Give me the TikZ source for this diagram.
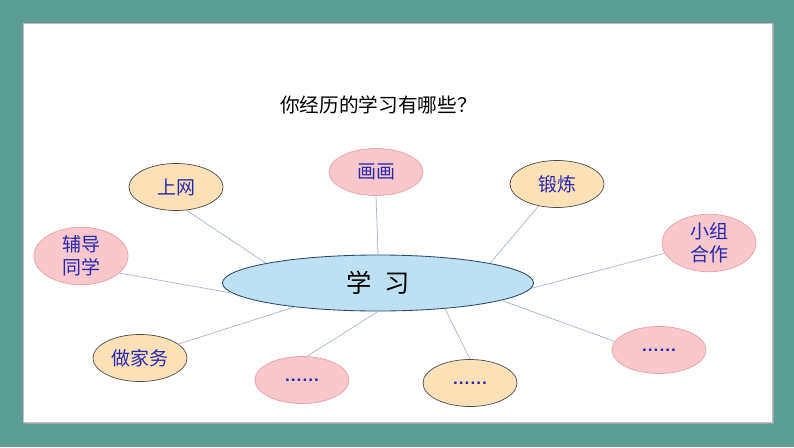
\documentclass[tikz,border=0pt]{standalone}
\usepackage{fontspec}
\usepackage{tikz}
\usepackage{xcolor}
\usetikzlibrary{positioning, shapes.geometric}
\newfontfamily\cjk{Noto Sans CJK SC}
\definecolor{xxteal}{RGB}{91, 158, 148}
\definecolor{xxpeach}{RGB}{252, 224, 184}
\definecolor{xxpink}{RGB}{248, 200, 204}
\definecolor{xxpinkline}{RGB}{230, 160, 170}
\definecolor{xxsky}{RGB}{189, 224, 242}
\definecolor{xxnavy}{RGB}{40, 70, 110}
\definecolor{xxink}{RGB}{40, 40, 175}
\definecolor{xxspoke}{RGB}{168, 184, 200}
\tikzset{
  leaf/.style={ellipse, inner sep=0pt, minimum width=2.35cm, minimum height=1.175cm,
    align=center, text=xxink, font=\cjk\fontsize{13.5}{16.5}\selectfont},
  peach/.style={leaf, fill=xxpeach, draw=black!70, line width=0.5pt},
  pinkish/.style={leaf, fill=xxpink, draw=xxpinkline, line width=0.5pt},
  spoke/.style={draw=xxspoke, line width=0.5pt}
}

\begin{document}
\begin{tikzpicture}[x=0.025cm, y=-0.025cm]
    % frame
    \fill[xxteal] (0,0) rectangle (794,447);
    \fill[black!35] (25,25) rectangle (774,424);
    \filldraw[fill=white, draw=black!25, line width=0.4pt] (23,23) rectangle (772,422);
    \useasboundingbox (0,0) rectangle (794,447);

    \node[font=\cjk\fontsize{14}{16}\selectfont] (title) at (378.5,105) {你经历的学习有哪些？};

    \node[ellipse, inner sep=0pt, minimum width=7.775cm, minimum height=1.4cm,
      fill=xxsky, draw=xxnavy, line width=0.6pt, font=\cjk\fontsize{18}{20}\selectfont] (hub) at (378,283)
      {学\hspace{0.3cm}习};

    \node[peach] (shangwang) at (176,187) {上网};
    \node[pinkish] (huahua) at (376,172) {画画};
    \node[peach] (duanlian) at (557,184) {锻炼};
    \node[pinkish] (fudao) at (81,256) {辅导\\同学};
    \node[pinkish] (xiaozu) at (709,243) {小组\\合作};
    \node[peach] (jiawu) at (140,358) {做家务};
    \node[pinkish] (etcleft) at (302,380) {\textbf{\textsf{......}}};
    \node[peach] (etcmid) at (470,383) {\textbf{\textsf{......}}};
    \node[pinkish] (etcright) at (659,350) {\textbf{\textsf{......}}};

    \draw[spoke] (shangwang.-66) -- (hub.170);
    \draw[spoke] (huahua.south) -- (hub.north);
    \draw[spoke] (duanlian.-130) -- (hub.10);
    \draw[spoke] (fudao.-24) -- (hub.184);
    \draw[spoke] (xiaozu.193) -- (hub.-2);
    \draw[spoke] (jiawu.20) -- (hub.-164);
    \draw[spoke] (etcleft.78) -- (hub.-90);
    \draw[spoke] (etcmid.north) -- (hub.-21);
    \draw[spoke] (etcright.169) -- (hub.-8);
  \end{tikzpicture}
\end{document}
